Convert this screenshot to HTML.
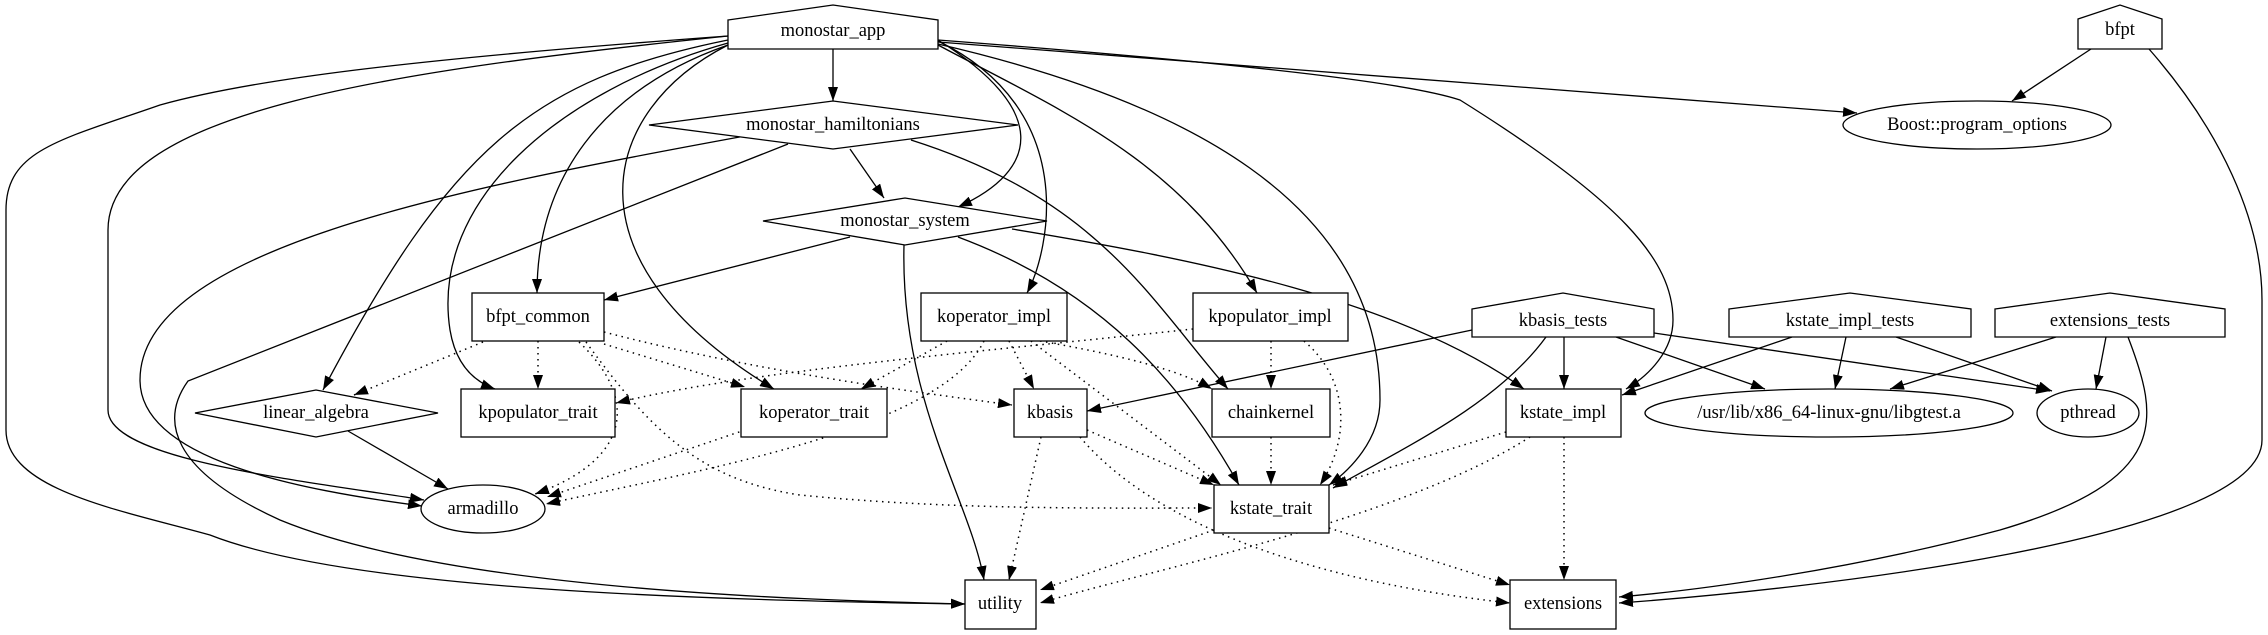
<!DOCTYPE html>
<html><head><meta charset="utf-8"><style>
html,body{margin:0;padding:0;background:#fff;}
svg{display:block;}
text{font-family:"Liberation Serif",serif;font-size:18.5px;fill:#000;text-anchor:middle;dominant-baseline:central;}
.n{fill:#fff;stroke:#000;stroke-width:1.3;}
.e{fill:none;stroke:#000;stroke-width:1.3;}
.d{fill:none;stroke:#000;stroke-width:1.5;stroke-dasharray:1.5,4.5;}
</style></head><body>
<svg width="2268" height="635" viewBox="0 0 2268 635" xmlns="http://www.w3.org/2000/svg">
<defs>
<marker id="a" markerUnits="userSpaceOnUse" markerWidth="14" markerHeight="10" refX="14" refY="5" orient="auto"><path d="M0,0 L14,5 L0,10 z" fill="#000"/></marker>
</defs>
<g marker-end="url(#a)">
<path class="e" d="M833,49 L833,101"/>
<path class="e" d="M938,40 C1050,110 1040,170 958,207"/>
<path class="e" d="M728,45 C600,90 537,180 537,293"/>
<path class="e" d="M728,43 C560,90 430,200 450,330 C455,360 470,380 495,389"/>
<path class="e" d="M728,45 C600,110 560,260 774,389"/>
<path class="e" d="M728,40 C530,80 450,150 323,390"/>
<path class="e" d="M728,36 C400,70 108,110 108,230 L108,410 C108,460 300,480 424,500"/>
<path class="e" d="M728,36 C400,60 250,80 160,105 C60,140 6,150 6,210 L6,430 C6,490 120,510 210,535 C350,590 700,600 965,604"/>
<path class="e" d="M938,41 C1080,110 1050,250 1027,293"/>
<path class="e" d="M938,45 C1060,110 1180,160 1257,293"/>
<path class="e" d="M938,44 C1180,100 1380,200 1380,400 C1380,440 1350,470 1329,485"/>
<path class="e" d="M938,40 C1200,60 1400,80 1460,100 C1620,200 1673,260 1673,320 C1673,350 1650,375 1626,389"/>
<path class="e" d="M938,42 L1857,113"/>
<path class="e" d="M850,149 L884,198"/>
<path class="e" d="M911,140 C1100,200 1150,300 1228,389"/>
<path class="e" d="M745,136 C450,190 140,250 140,380 C140,460 300,490 422,506"/>
<path class="e" d="M788,144 L188,381 C160,420 170,470 280,520 C450,590 800,600 965,604"/>
<path class="e" d="M850,237 L604,300"/>
<path class="e" d="M904,245 C900,400 970,500 984,580"/>
<path class="e" d="M958,237 C1100,290 1180,380 1239,485"/>
<path class="e" d="M1012,229 C1200,260 1400,300 1524,389"/>
<path class="d" d="M483,342 L354,395"/>
<path class="d" d="M538,341 L538,389"/>
<path class="d" d="M604,344 L745,387"/>
<path class="d" d="M604,332 C750,370 900,390 1012,405"/>
<path class="d" d="M579,342 C640,400 630,460 535,494"/>
<path class="d" d="M586,342 C650,430 700,480 800,495 C950,510 1100,508 1212,508"/>
<path class="d" d="M947,341 L861,389"/>
<path class="d" d="M1009,341 L1034,389"/>
<path class="d" d="M984,341 C940,430 700,470 546,504"/>
<path class="d" d="M1031,341 L1221,485"/>
<path class="d" d="M1040,341 C1120,355 1180,370 1212,389"/>
<path class="d" d="M1193,329 C1000,350 750,370 616,403"/>
<path class="d" d="M1271,341 L1271,389"/>
<path class="d" d="M1304,341 C1350,380 1350,440 1320,485"/>
<path class="e" d="M1472,330 L1087,411"/>
<path class="e" d="M1546,337 C1500,400 1420,440 1333,488"/>
<path class="e" d="M1564,337 L1564,389"/>
<path class="e" d="M1616,337 L1765,389"/>
<path class="e" d="M1654,333 L2050,391"/>
<path class="e" d="M1792,337 L1622,395"/>
<path class="e" d="M1846,337 L1835,389"/>
<path class="e" d="M1896,337 L2052,391"/>
<path class="e" d="M2056,337 L1890,389"/>
<path class="e" d="M2106,337 L2096,389"/>
<path class="e" d="M2128,337 C2160,420 2170,480 2000,530 C1850,570 1700,590 1619,597"/>
<path class="e" d="M2091,49 L2012,101"/>
<path class="e" d="M2149,49 C2220,130 2262,220 2262,300 L2262,440 C2262,540 1800,590 1619,603"/>
<path class="d" d="M1506,432 L1333,485"/>
<path class="d" d="M1530,437 C1400,520 1150,570 1040,603"/>
<path class="d" d="M1564,437 L1564,580"/>
<path class="d" d="M1214,530 L1040,590"/>
<path class="d" d="M1329,528 L1510,585"/>
<path class="d" d="M1041,437 L1009,580"/>
<path class="d" d="M1087,430 L1214,485"/>
<path class="d" d="M1080,437 C1150,520 1300,580 1510,603"/>
<path class="e" d="M348,431 L448,489"/>
<path class="d" d="M745,430 L547,497"/>
<path class="d" d="M1271,437 L1271,485"/>
</g>
<polygon class="n" points="728,20 833,5 938,20 938,49 728,49 728,20"/>
<text x="833" y="31">monostar_app</text>
<polygon class="n" points="2078,19 2120,5 2162,19 2162,49 2078,49"/>
<text x="2120" y="30">bfpt</text>
<polygon class="n" points="649,125 833,101 1018,125 833,149"/>
<text x="833" y="125">monostar_hamiltonians</text>
<ellipse class="n" cx="1977" cy="125" rx="134" ry="24"/>
<text x="1977" y="125">Boost::program_options</text>
<polygon class="n" points="763,221 905,198 1047,221 905,245"/>
<text x="905" y="221">monostar_system</text>
<rect class="n" x="472" y="293" width="132" height="48"/>
<text x="538" y="317">bfpt_common</text>
<rect class="n" x="921" y="293" width="146" height="48"/>
<text x="994" y="317">koperator_impl</text>
<rect class="n" x="1193" y="293" width="155" height="48"/>
<text x="1270" y="317">kpopulator_impl</text>
<polygon class="n" points="1472,309 1563,293 1654,309 1654,337 1472,337"/>
<text x="1563" y="321">kbasis_tests</text>
<polygon class="n" points="1729,309 1850,293 1971,309 1971,337 1729,337"/>
<text x="1850" y="321">kstate_impl_tests</text>
<polygon class="n" points="1995,309 2110,293 2225,309 2225,337 1995,337"/>
<text x="2110" y="321">extensions_tests</text>
<polygon class="n" points="195,413 316,390 438,413 316,437"/>
<text x="316" y="413">linear_algebra</text>
<rect class="n" x="461" y="389" width="154" height="48"/>
<text x="538" y="413">kpopulator_trait</text>
<rect class="n" x="741" y="389" width="146" height="48"/>
<text x="814" y="413">koperator_trait</text>
<rect class="n" x="1014" y="389" width="73" height="48"/>
<text x="1050" y="413">kbasis</text>
<rect class="n" x="1212" y="389" width="118" height="48"/>
<text x="1271" y="413">chainkernel</text>
<rect class="n" x="1506" y="389" width="115" height="48"/>
<text x="1563" y="413">kstate_impl</text>
<ellipse class="n" cx="1829" cy="413" rx="184" ry="24"/>
<text x="1829" y="413">/usr/lib/x86_64-linux-gnu/libgtest.a</text>
<ellipse class="n" cx="2088" cy="413" rx="51" ry="24"/>
<text x="2088" y="413">pthread</text>
<ellipse class="n" cx="483" cy="509" rx="62" ry="24"/>
<text x="483" y="509">armadillo</text>
<rect class="n" x="1214" y="485" width="115" height="48"/>
<text x="1271" y="509">kstate_trait</text>
<rect class="n" x="965" y="580" width="71" height="49"/>
<text x="1000" y="604">utility</text>
<rect class="n" x="1510" y="580" width="106" height="49"/>
<text x="1563" y="604">extensions</text>
</svg>
</body></html>
